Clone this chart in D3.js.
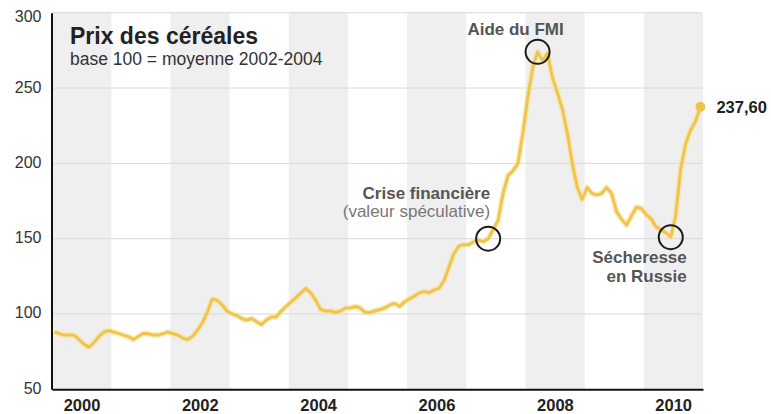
<!DOCTYPE html>
<html>
<head>
<meta charset="utf-8">
<script src="https://cdn.jsdelivr.net/npm/d3@7"></script>
<style>
  body { margin: 0; background: #fff; }
  svg { display: block; }
  text { font-family: "Liberation Sans", Arial, Helvetica, sans-serif; }
</style>
</head>
<body>
<svg id="chart" width="771" height="414"></svg>
<script>
// FAO cereal price index, monthly, base 100 = average 2002-2004
const firstYear = 2000;
const cerealIndex = [
  88, 87, 86, 86, 86, 83, 80, 78, 81, 85, 88, 89,          // 2000
  88, 87, 86, 85, 83, 85, 87, 87, 86, 86, 87, 88,          // 2001
  87, 86, 84, 83, 85, 89, 94, 101, 110, 109, 106, 102,     // 2002
  100, 99, 97, 96, 97, 95, 93, 96, 98, 98, 102, 105,       // 2003
  108, 111, 114, 117, 114, 109, 103, 102, 102, 101, 102, 104, // 2004
  104, 105, 104, 101, 101, 102, 103, 104, 106, 107, 105, 108, // 2005
  110, 112, 114, 115, 114, 116, 117, 122, 131, 140, 145, 146, // 2006
  146, 148, 149, 148, 150, 156, 162, 180, 192, 195, 200, 220, // 2007
  244, 264, 274, 268, 273, 257, 247, 236, 220, 200, 184, 176, // 2008
  184, 180, 179, 180, 184, 180, 168, 163, 159, 165, 171, 170, // 2009
  166, 163, 158, 156, 154, 151, 165, 196, 213, 222, 228, 237.6 // 2010
];
const shadedYears = [2000, 2002, 2004, 2006, 2008, 2010];
const yearLabels = ["2000", "2002", "2004", "2006", "2008", "2010"];
const yTicks = [50, 100, 150, 200, 250, 300];
const lastLabel = "237,60";

// Annotated months (index into cerealIndex) and their captions
const noteMonths = [88, 98, 125];
const noteTitles = ["Crise financière", "Aide du FMI", "Sécheresse"];
const noteSecond = ["(valeur spéculative)", "", "en Russie"];

const data = cerealIndex.map((v, i) => ({ date: new Date(firstYear, i, 16), value: v }));

const svg = d3.select("#chart");
const x = d3.scaleTime()
  .domain([new Date(2000, 0, 1), new Date(2011, 0, 1)])
  .range([52, 703]);
const y = d3.scaleLinear().domain([50, 300]).range([389.3, 12.7]);

// alternating year bands
svg.append("g").selectAll("rect").data(shadedYears).join("rect")
  .attr("x", d => x(new Date(d, 0, 1)))
  .attr("width", d => x(new Date(d + 1, 0, 1)) - x(new Date(d, 0, 1)))
  .attr("y", y(300))
  .attr("height", y(50) - y(300))
  .attr("fill", "#efefef");

// horizontal grid
svg.append("g").selectAll("line").data(yTicks.filter(t => t > 50)).join("line")
  .attr("x1", 52).attr("x2", 702)
  .attr("y1", d => y(d)).attr("y2", d => y(d))
  .attr("stroke", "#d9d9d9").attr("stroke-width", 1);

// y axis
const yAxis = svg.append("g").attr("transform", "translate(51.5,0)")
  .call(d3.axisLeft(y).tickValues(yTicks).tickSize(0).tickSizeOuter(0).tickPadding(10));
yAxis.select(".domain").attr("stroke", "#111").attr("stroke-width", 2);
yAxis.selectAll("text")
  .attr("font-size", 16).attr("fill", "#333")
  .attr("font-family", "Liberation Sans, Arial, sans-serif")
  .attr("dy", d => d === 300 ? "0.55em" : "0.25em");

// x axis
const xAxis = svg.append("g").attr("transform", `translate(0,${y(50)})`)
  .call(d3.axisBottom(x)
    .tickValues(yearLabels.map(s => new Date(+s, 6, 1)))
    .tickFormat(d3.timeFormat("%Y"))
    .tickSize(0).tickSizeOuter(0).tickPadding(10));
xAxis.select(".domain").attr("stroke", "#111").attr("stroke-width", 2);
xAxis.selectAll("text")
  .attr("font-size", 16.5).attr("font-weight", "bold").attr("fill", "#222")
  .attr("font-family", "Liberation Sans, Arial, sans-serif");

// title
svg.append("text").attr("x", 70).attr("y", 43.5)
  .attr("font-size", 23).attr("font-weight", "bold").attr("fill", "#222")
  .text("Prix des céréales");
svg.append("text").attr("x", 70).attr("y", 65)
  .attr("font-size", 17.5).attr("fill", "#333")
  .text("base 100 = moyenne 2002-2004");

// price line
const line = d3.line().x(d => x(d.date)).y(d => y(d.value));
svg.append("path").datum(data).attr("d", line)
  .attr("fill", "none").attr("stroke", "#f6e2a2").attr("stroke-width", 6)
  .attr("stroke-linejoin", "round").attr("opacity", 0.6);
svg.append("path").datum(data).attr("d", line)
  .attr("fill", "none").attr("stroke", "#efc54e").attr("stroke-width", 3)
  .attr("stroke-linejoin", "round");

// last value
const last = data[data.length - 1];
svg.append("circle").attr("cx", x(last.date)).attr("cy", y(last.value))
  .attr("r", 5).attr("fill", "#ecc54f");
svg.append("text").attr("x", x(last.date) + 16).attr("y", y(last.value) + 6)
  .attr("font-size", 16.5).attr("font-weight", "bold").attr("fill", "#222")
  .text(lastLabel);

// annotation circles
const notes = noteMonths.map((m, i) => ({ d: data[m], t1: noteTitles[i], t2: noteSecond[i] }));
svg.append("g").selectAll("circle").data(notes).join("circle")
  .attr("cx", n => x(n.d.date)).attr("cy", n => y(n.d.value))
  .attr("r", 12).attr("fill", "none").attr("stroke", "#1a1a1a").attr("stroke-width", 2);

// annotation captions
function caption(n, dx, dy1, dy2, anchor) {
  const cx = x(n.d.date), cy = y(n.d.value);
  svg.append("text").attr("x", cx + dx).attr("y", cy + dy1)
    .attr("text-anchor", anchor).attr("font-size", 17).attr("font-weight", "bold")
    .attr("fill", "#555").text(n.t1);
  if (n.t2) {
    svg.append("text").attr("x", cx + dx).attr("y", cy + dy2)
      .attr("text-anchor", anchor).attr("font-size", 17)
      .attr("font-weight", n.t2.startsWith("(") ? "normal" : "bold")
      .attr("fill", n.t2.startsWith("(") ? "#777" : "#555").text(n.t2);
  }
}
caption(notes[0], 2, -40, -22, "end");
caption(notes[1], -22, -17, 0, "middle");
caption(notes[2], 16, 26, 45, "end");
</script>
</body>
</html>
